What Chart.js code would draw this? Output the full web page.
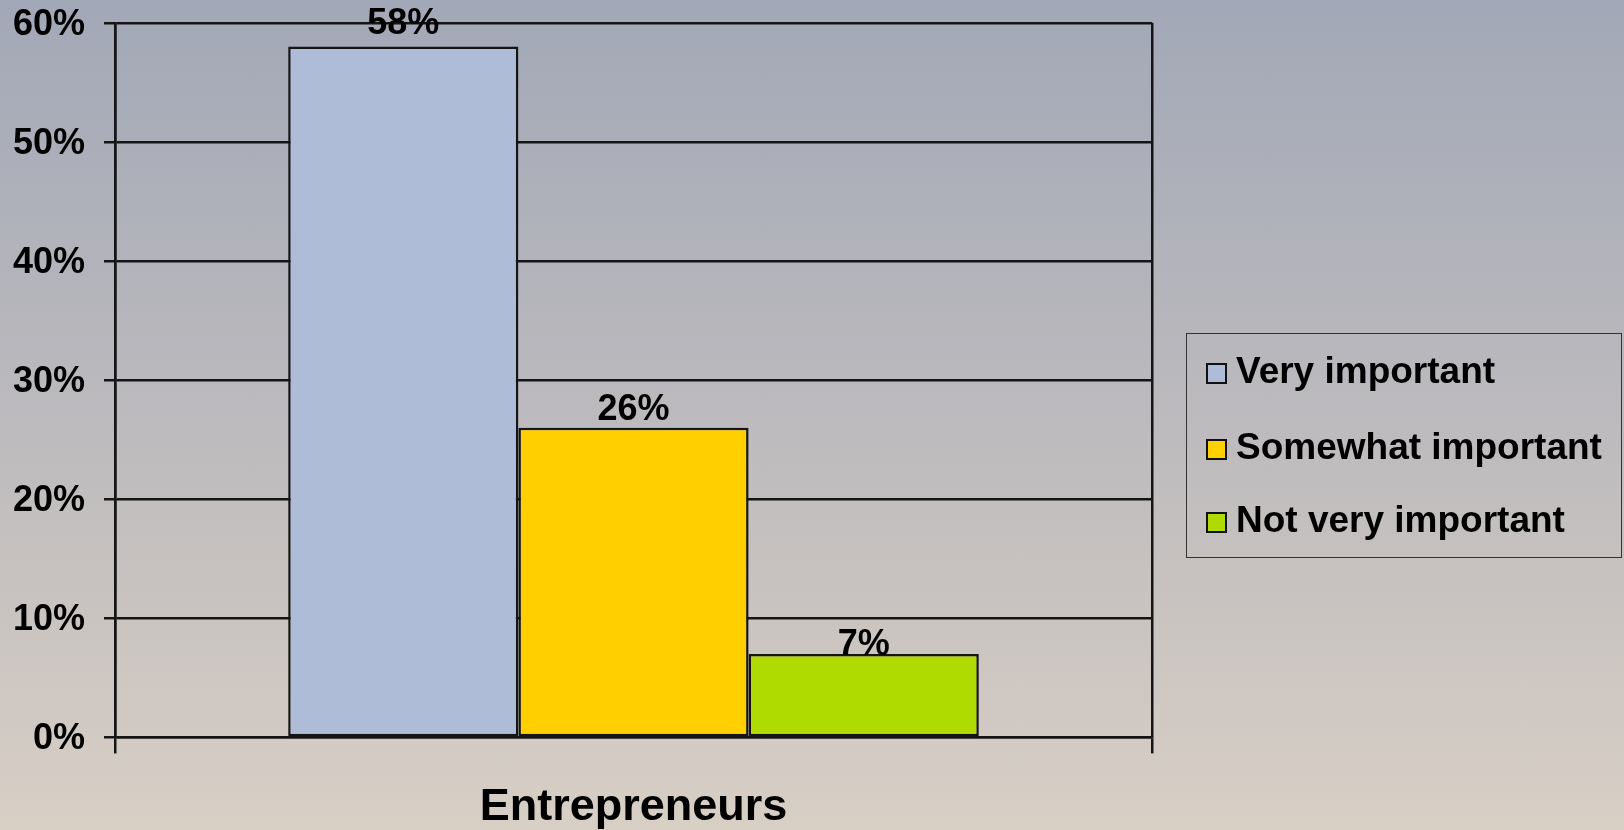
<!DOCTYPE html>
<html>
<head>
<meta charset="utf-8">
<script src="https://cdn.jsdelivr.net/npm/chart.js@4/dist/chart.umd.min.js"></script>
<style>
  html, body { margin: 0; padding: 0; }
  body {
    width: 1624px; height: 830px; overflow: hidden; position: relative;
    background: linear-gradient(to bottom, #a2a8b7 0%, #bcbabd 50%, #d8cfc5 100%);
    font-family: "Liberation Sans", Arial, sans-serif;
  }
  .chart-box { position: absolute; left: 0; top: 0; width: 1624px; height: 830px; }
  .legend {
    position: absolute; left: 1186px; top: 333px; width: 436px; height: 225px;
    box-sizing: border-box; border: 1.5px solid #333; margin: 0; padding: 0; list-style: none;
  }
  .legend li {
    position: absolute; left: 19px; height: 40px; line-height: 40px;
    font-weight: bold; font-size: 37px; color: #000; white-space: nowrap;
  }
  .legend li span {
    display: inline-block; width: 17px; height: 17px; border: 2px solid #111;
    margin-right: 9px; vertical-align: -1px;
  }
</style>
</head>
<body>
<div class="chart-box"><canvas id="chart" width="1624" height="830"></canvas></div>
<ul class="legend"></ul>
<script>
const categories = ["Entrepreneurs"];
const seriesNames = ["Very important", "Somewhat important", "Not very important"];
const seriesValues = [[58], [26], [7]];
const yTicks = [0, 10, 20, 30, 40, 50, 60];

const colors = ["#aebcd8", "#ffcf00", "#afdb00"];
// gap between bar top and its value label baseline
const labelGaps = [13, 8, -1];

Chart.defaults.font.family = '"Liberation Sans", Arial, sans-serif';
Chart.defaults.font.weight = "bold";
Chart.defaults.color = "#000";

const valueLabels = {
  id: "valueLabels",
  afterDatasetsDraw(chart) {
    const ctx = chart.ctx;
    ctx.save();
    ctx.font = 'bold 36px "Liberation Sans", Arial, sans-serif';
    ctx.fillStyle = "#000";
    ctx.textAlign = "center";
    ctx.textBaseline = "alphabetic";
    chart.data.datasets.forEach((ds, i) => {
      chart.getDatasetMeta(i).data.forEach((bar, j) => {
        ctx.fillText(ds.data[j] + "%", bar.x, bar.y - labelGaps[i]);
      });
    });
    ctx.restore();
  },
};

new Chart(document.getElementById("chart"), {
  type: "bar",
  data: {
    labels: categories,
    datasets: seriesNames.map((name, i) => ({
      label: name,
      data: seriesValues[i],
      backgroundColor: colors[i],
      borderColor: "#151515",
      borderWidth: 2.5,
      borderSkipped: false,
      categoryPercentage: 0.666,
      barPercentage: 1,
    })),
  },
  options: {
    responsive: false,
    animation: false,
    layout: { padding: { left: 0, right: 472, top: 0, bottom: 0 } },
    plugins: { legend: { display: false }, tooltip: { enabled: false } },
    scales: {
      x: {
        afterFit: (scale) => { scale.height = 92.6; },
        grid: { offset: true, color: "#151515", lineWidth: 2.5, tickLength: 16, drawOnChartArea: true },
        border: { color: "#151515", width: 2.5 },
        ticks: { font: { size: 45, weight: "bold" }, padding: 27 },
      },
      y: {
        min: yTicks[0],
        max: yTicks[yTicks.length - 1],
        afterFit: (scale) => {
          scale.width = 115;
          scale.paddingTop = 22.8;
          scale.paddingBottom = 22.8;
        },
        afterBuildTicks: (axis) => { axis.ticks = yTicks.map((v) => ({ value: v })); },
        grid: { color: "#151515", lineWidth: 2.5, tickLength: 11 },
        border: { color: "#151515", width: 2.5 },
        ticks: { font: { size: 36, weight: "bold" }, padding: 19, labelOffset: 2, callback: (v) => v + "%" },
      },
    },
  },
  plugins: [valueLabels],
});

const ul = document.querySelector(".legend");
const rowTops = [17, 93, 166];
seriesNames.forEach((name, i) => {
  const li = document.createElement("li");
  li.style.top = rowTops[i] + "px";
  li.innerHTML = `<span style="background:${colors[i]}"></span>${name}`;
  ul.appendChild(li);
});
</script>
</body>
</html>
